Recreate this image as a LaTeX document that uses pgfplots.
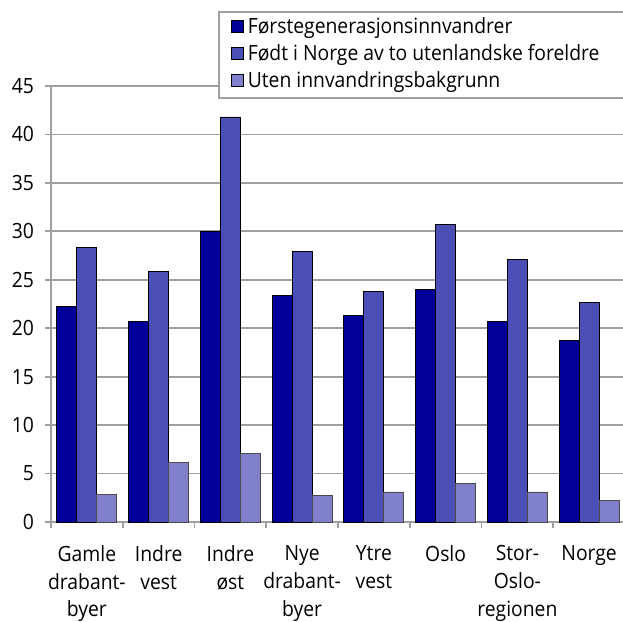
\documentclass[border=0pt]{standalone}
\usepackage{fontspec}
\setmainfont{Open Sans}[FakeStretch=0.92]
\usepackage{pgfplots}
\pgfplotsset{compat=1.18}

\definecolor{c1}{RGB}{0,0,153}
\definecolor{c2}{RGB}{75,79,181}
\definecolor{c3}{RGB}{128,128,204}
\definecolor{gridc}{RGB}{160,160,160}

\pgfplotsset{
  legsq/.style={legend image code/.code={
    \draw[##1,draw=black,line width=0.4pt] (0pt,-3pt) rectangle (6pt,3pt);}},
}

\begin{document}
\begin{tikzpicture}[font=\fontsize{10.5}{14}\selectfont]
\begin{axis}[
    name=ax,
    scale only axis,
    width=287pt, height=218pt,
    clip=false,
    xmin=-0.5, xmax=7.5,
    ymin=0, ymax=45,
    ybar=0pt, bar width=10pt,
    axis x line*=bottom, axis y line*=left,
    axis line style={gridc, line width=0.9pt, -},
    tick style={gridc, line width=0.9pt},
    tick align=outside,
    major tick length=3pt,
    ytick={0,5,...,45},
    ymajorgrids,
    grid style={gridc, line width=0.9pt},
    xtick={-0.5,0.5,...,7.5},
    x tick label as interval,
    xticklabels={{Gamle\\drabant-\\byer},{Indre\\vest},{Indre\\øst},{Nye\\drabant-\\byer},{Ytre\\vest},{Oslo},{Stor-\\Oslo-\\regionen},{Norge}},
    xticklabel style={align=center, anchor=north, yshift=-5pt},
    yticklabel style={xshift=-2pt},
    /pgf/number format/assume math mode=true,
    legend style={at={(axis description cs:0.292,1.17)}, anchor=north west,
        draw=none, fill=none, inner xsep=6pt, inner ysep=0.5pt,
        row sep=0pt, font=\fontsize{10.5}{14}\selectfont},
    legend cell align=left,
]
% legend frame, running past the right edge as in the reference
\draw[gridc, line width=0.9pt, fill=white]
    (axis description cs:0.292,1.17) rectangle (axis description cs:1.06,0.9725);
\addplot[fill=c1, draw=black, line width=0.4pt, legsq] coordinates {
    (0,22.2) (1,20.7) (2,30.0) (3,23.4) (4,21.3) (5,24.0) (6,20.7) (7,18.7)};
\addlegendentry{Førstegenerasjonsinnvandrer}
\addplot[fill=c2, draw=black, line width=0.4pt, legsq] coordinates {
    (0,28.3) (1,25.9) (2,41.8) (3,27.9) (4,23.8) (5,30.7) (6,27.1) (7,22.7)};
\addlegendentry{Født i Norge av to utenlandske foreldre}
\addplot[fill=c3, draw=black!70, line width=0.4pt, legsq] coordinates {
    (0,2.8) (1,6.1) (2,7.05) (3,2.7) (4,3.1) (5,4.0) (6,3.1) (7,2.2)};
\addlegendentry{Uten innvandringsbakgrunn}
\end{axis}
\pgfresetboundingbox
\path ([xshift=-25.5pt,yshift=-50pt]ax.south west) rectangle ([xshift=286pt,yshift=43pt]ax.north west);
\end{tikzpicture}
\end{document}
